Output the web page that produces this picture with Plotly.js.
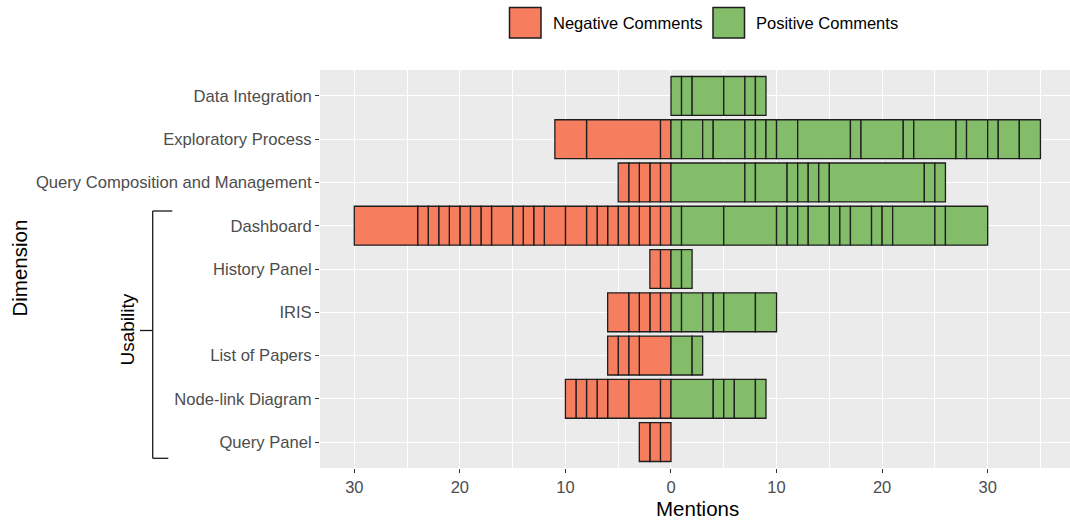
<!DOCTYPE html>
<html>
<head>
<meta charset="utf-8">
<script src="https://cdn.plot.ly/plotly-3.0.1.min.js"></script>
<style>html,body{margin:0;padding:0;background:#fff;}#chart{width:1070px;height:520px;}</style>
</head>
<body>
<div id="chart"></div>
<script>
// Categories, top to bottom
const categories = ["Data Integration", "Exploratory Process", "Query Composition and Management",
  "Dashboard", "History Panel", "IRIS", "List of Papers", "Node-link Diagram", "Query Panel"];

// Negative comment segments per category (mentions, listed from 0 outward)
const negDataIntegration = [];
const negExploratory = [1, 7, 3];
const negQueryComposition = [1, 1, 1, 1, 1];
const negDashboard = [1, 1, 1, 1, 1, 1, 1, 1, 2, 2, 1, 1, 1, 2, 1, 1, 1, 1, 1, 1, 1, 6];
const negHistoryPanel = [1, 1];
const negIRIS = [1, 1, 1, 1, 2];
const negListOfPapers = [3, 1, 1, 1];
const negNodeLink = [1, 3, 2, 1, 1, 1, 1];
const negQueryPanel = [1, 1, 1];

// Positive comment segments per category (mentions, listed from 0 outward)
const posDataIntegration = [1, 1, 3, 2, 1, 1];
const posExploratory = [1, 2, 1, 3, 1, 1, 1, 2, 5, 1, 4, 1, 4, 1, 2, 1, 2, 2];
const posQueryComposition = [7, 1, 3, 1, 1, 1, 1, 9, 1, 1];
const posDashboard = [1, 4, 5, 1, 1, 1, 2, 1, 1, 2, 1, 1, 4, 1, 4];
const posHistoryPanel = [1, 1];
const posIRIS = [1, 2, 1, 1, 3, 2];
const posListOfPapers = [2, 1];
const posNodeLink = [4, 1, 1, 2, 1];
const posQueryPanel = [];

// Axis ticks
const xTickVals = [-30, -20, -10, 0, 10, 20, 30];
const xTickText = ["30", "20", "10", "0", "10", "20", "30"];
const xMinorVals = [-25, -15, -5, 5, 15, 25, 35];

const legendNames = ["Negative Comments", "Positive Comments"];
const groupLabel = "Usability";

const negative = [negDataIntegration, negExploratory, negQueryComposition, negDashboard,
  negHistoryPanel, negIRIS, negListOfPapers, negNodeLink, negQueryPanel];
const positive = [posDataIntegration, posExploratory, posQueryComposition, posDashboard,
  posHistoryPanel, posIRIS, posListOfPapers, posNodeLink, posQueryPanel];

const RED = "#F67E5E", GREEN = "#84BD6A", EDGE = "#1E1E1E";
const FONT = "Liberation Sans, Arial, Helvetica, sans-serif";

const traces = [];
const maxNeg = Math.max(...negative.map(a => a.length));
const maxPos = Math.max(...positive.map(a => a.length));
for (let k = 0; k < maxNeg; k++) {
  traces.push({
    type: "bar", orientation: "h", y: categories,
    x: negative.map(a => a.length > k ? -a[k] : null),
    customdata: negative.map(a => a.length > k ? a[k] : null),
    name: legendNames[0], legendgroup: "neg", showlegend: false,
    marker: {color: RED, line: {color: EDGE, width: 1.3}},
    hovertemplate: "%{y}<br>Negative: %{customdata}<extra></extra>"
  });
}
for (let k = 0; k < maxPos; k++) {
  traces.push({
    type: "bar", orientation: "h", y: categories,
    x: positive.map(a => a.length > k ? a[k] : null),
    name: legendNames[1], legendgroup: "pos", showlegend: false,
    marker: {color: GREEN, line: {color: EDGE, width: 1.3}},
    hovertemplate: "%{y}<br>Positive: %{x}<extra></extra>"
  });
}

const W = 1070, H = 520, L = 320, R = 0, T = 70, B = 52;
const px = x => (x - L) / (W - L - R);
const py = y => (H - B - y) / (H - T - B);

const line = (x0, y0, x1, y1) => ({type: "line", xref: "paper", yref: "paper",
  x0: px(x0), y0: py(y0), x1: px(x1), y1: py(y1), line: {color: "#1a1a1a", width: 1.3}});

const shapes = [
  {type: "rect", xref: "paper", yref: "paper", x0: px(509.5), x1: px(541), y0: py(38), y1: py(7.5),
    fillcolor: RED, line: {color: EDGE, width: 1.5}},
  {type: "rect", xref: "paper", yref: "paper", x0: px(713), x1: px(744.5), y0: py(38), y1: py(7.5),
    fillcolor: GREEN, line: {color: EDGE, width: 1.5}},
  line(152.7, 211, 152.7, 458.3),
  line(152.7, 211, 172.3, 211),
  line(152.7, 458.3, 168.3, 458.3),
  line(140, 330.5, 152.7, 330.5)
];

const annotations = [
  {text: legendNames[0], x: px(550.5), y: py(23), xanchor: "left", yanchor: "middle"},
  {text: legendNames[1], x: px(753.5), y: py(23), xanchor: "left", yanchor: "middle"},
].map(a => Object.assign(a, {xref: "paper", yref: "paper", showarrow: false,
  font: {family: FONT, size: 16.5, color: "#000"}}));
annotations.push({text: groupLabel, xref: "paper", yref: "paper", x: px(126.5), y: py(330),
  textangle: -90, showarrow: false, xanchor: "center", yanchor: "middle",
  font: {family: FONT, size: 19, color: "#000"}});
annotations.push({text: "Dimension", xref: "paper", yref: "paper", x: px(18.5), y: py(268),
  textangle: -90, showarrow: false, xanchor: "center", yanchor: "middle",
  font: {family: FONT, size: 20.5, color: "#000"}});
annotations.push({text: "Mentions", xref: "paper", yref: "paper", x: px(697.5), y: py(508),
  showarrow: false, xanchor: "center", yanchor: "middle",
  font: {family: FONT, size: 20.5, color: "#000"}});

const layout = {
  width: W, height: H,
  margin: {l: L, r: R, t: T, b: B, pad: 0},
  paper_bgcolor: "#FFFFFF", plot_bgcolor: "#EBEBEB",
  barmode: "relative", bargap: 0.1,
  showlegend: false,
  font: {family: FONT, size: 16, color: "#4D4D4D"},
  xaxis: {
    range: [-33.25, 37.8], tickmode: "array", tickvals: xTickVals, ticktext: xTickText,
    showgrid: true, gridcolor: "#FFFFFF", gridwidth: 1.4, zeroline: false,
    ticks: "outside", ticklen: 4, tickwidth: 1.1, tickcolor: "#333333",
    tickfont: {family: FONT, size: 16.5, color: "#4D4D4D"},
    minor: {tickmode: "array", tickvals: xMinorVals, showgrid: true, gridcolor: "#FFFFFF", gridwidth: 0.7, ticklen: 0},
    showline: false, fixedrange: true
  },
  yaxis: {
    type: "category", categoryorder: "array", categoryarray: categories,
    range: [8.6, -0.6],
    showgrid: true, gridcolor: "#FFFFFF", gridwidth: 1.4, zeroline: false,
    ticks: "outside", ticklen: 4, tickwidth: 1.1, tickcolor: "#333333",
    tickfont: {family: FONT, size: 16.6, color: "#4D4D4D"},
    showline: false, fixedrange: true
  },
  shapes: shapes,
  annotations: annotations
};

Plotly.newPlot("chart", traces, layout, {displayModeBar: false, staticPlot: false});
</script>
</body>
</html>
